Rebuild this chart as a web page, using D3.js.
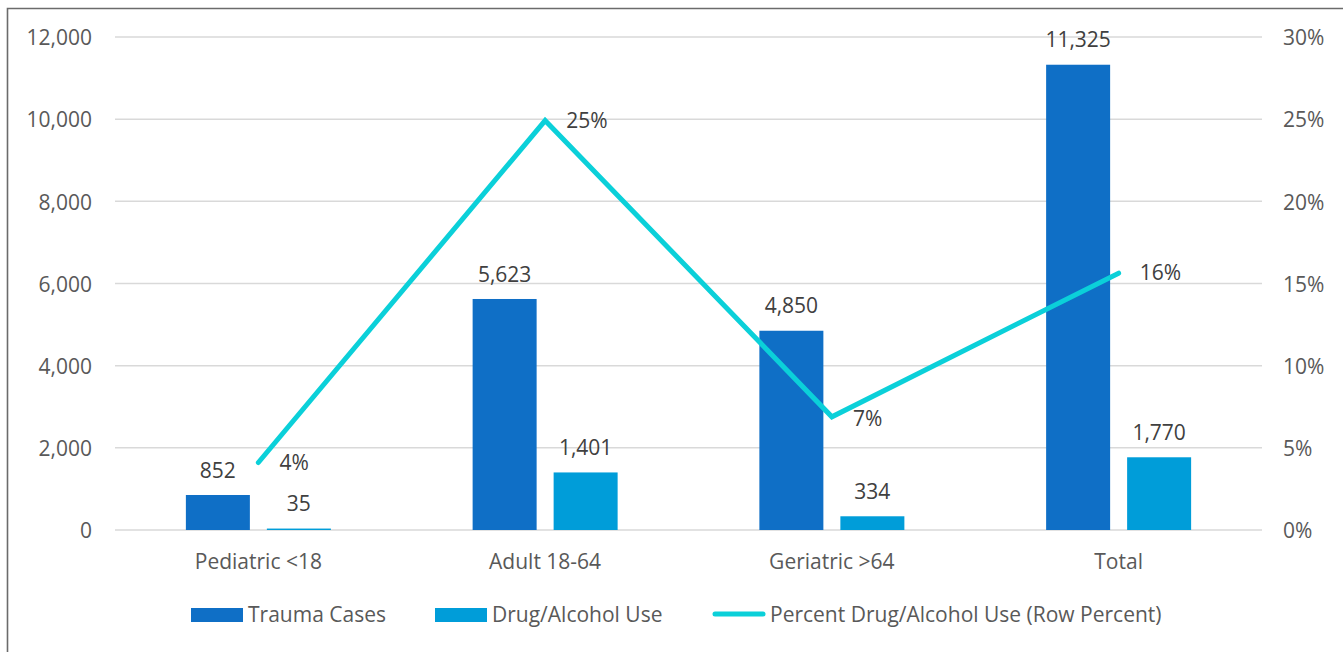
<!DOCTYPE html>
<html>
<head>
<meta charset="utf-8">
<script src="https://cdn.jsdelivr.net/npm/d3@7"></script>
<style>
  html, body { margin: 0; padding: 0; background: #fff; }
  svg { display: block; }
  text { font-family: "Open Sans", "Noto Sans", sans-serif; }
</style>
</head>
<body>
<svg id="chart" width="1343" height="652"></svg>
<script>
// Trauma cases and drug/alcohol involvement by age group
const categories = ["Pediatric <18", "Adult 18-64", "Geriatric >64", "Total"];
const traumaCases = [852, 5623, 4850, 11325];
const drugAlcoholUse = [35, 1401, 334, 1770];
const rowPercent = drugAlcoholUse.map((d, i) => d / traumaCases[i]);
const leftTicks = [0, 2000, 4000, 6000, 8000, 10000, 12000];
const rightTicks = [0, 0.05, 0.10, 0.15, 0.20, 0.25, 0.30];
const seriesNames = ["Trauma Cases", "Drug/Alcohol Use", "Percent Drug/Alcohol Use (Row Percent)"];

const colors = { trauma: "#0F6FC6", drug: "#009DD9", pct: "#0BD0D9" };
const fontSize = "21px";

const svg = d3.select("#chart");
const plot = { left: 115, right: 1262, top: 37, bottom: 530 };

// frame around the chart
svg.append("path")
  .attr("d", `M7.5,652 L7.5,8.5 L1343,8.5`)
  .attr("fill", "none").attr("stroke", "#6b6b6b").attr("stroke-width", 1.6);

const x = d3.scaleBand().domain(categories).range([plot.left, plot.right]);
const yL = d3.scaleLinear().domain([0, 12000]).range([plot.bottom, plot.top]);
const yR = d3.scaleLinear().domain([0, 0.30]).range([plot.bottom, plot.top]);
const barW = 64, barGap = 17;
const sub = d3.scaleOrdinal().domain([0, 1]).range([-(barW + barGap) / 2, (barW + barGap) / 2]);

// gridlines
svg.append("g").selectAll("line").data(leftTicks).join("line")
  .attr("x1", plot.left).attr("x2", plot.right)
  .attr("y1", d => yL(d)).attr("y2", d => yL(d))
  .attr("stroke", "#d9d9d9").attr("stroke-width", 1.5);

// left axis
const fmt = d3.format(",");
const axL = svg.append("g").attr("transform", `translate(${plot.left - 23},1)`)
  .call(d3.axisLeft(yL).tickValues(leftTicks).tickFormat(fmt).tickSize(0).tickPadding(0));
axL.select(".domain").remove();
axL.selectAll("text").attr("fill", "#595959").style("font-size", fontSize).style("font-family", "'Open Sans', sans-serif");

// right axis
const axR = svg.append("g").attr("transform", `translate(${plot.right + 21},1)`)
  .call(d3.axisRight(yR).tickValues(rightTicks).tickFormat(d3.format(".0%")).tickSize(0).tickPadding(0));
axR.select(".domain").remove();
axR.selectAll("text").attr("fill", "#595959").style("font-size", fontSize).style("font-family", "'Open Sans', sans-serif");

// category axis labels
svg.append("g").selectAll("text").data(categories).join("text")
  .attr("x", d => x(d) + x.bandwidth() / 2).attr("y", 563)
  .attr("text-anchor", "middle").attr("dominant-baseline", "middle")
  .attr("fill", "#595959").style("font-size", fontSize).text(d => d);

// bars
const seriesBars = [
  { name: seriesNames[0], values: traumaCases, color: colors.trauma },
  { name: seriesNames[1], values: drugAlcoholUse, color: colors.drug }
];
seriesBars.forEach((s, si) => {
  const g = svg.append("g");
  g.selectAll("rect").data(s.values).join("rect")
    .attr("x", (d, i) => x(categories[i]) + x.bandwidth() / 2 + sub(si) - barW / 2)
    .attr("width", barW)
    .attr("y", d => yL(d)).attr("height", d => yL(0) - yL(d))
    .attr("fill", s.color);
  g.selectAll("text").data(s.values).join("text")
    .attr("x", (d, i) => x(categories[i]) + x.bandwidth() / 2 + sub(si))
    .attr("y", d => yL(d) - 23)
    .attr("text-anchor", "middle").attr("dominant-baseline", "middle")
    .attr("fill", "#404040").style("font-size", fontSize).text(d => fmt(d));
});

// percent line
const line = d3.line()
  .x((d, i) => x(categories[i]) + x.bandwidth() / 2)
  .y(d => yR(d));
svg.append("path").datum(rowPercent)
  .attr("d", line).attr("fill", "none")
  .attr("stroke", colors.pct).attr("stroke-width", 5)
  .attr("stroke-linejoin", "miter").attr("stroke-linecap", "round");
svg.append("g").selectAll("text").data(rowPercent).join("text")
  .attr("x", (d, i) => x(categories[i]) + x.bandwidth() / 2 + 21)
  .attr("y", (d, i) => yR(d) + (i === 2 ? 4 : 1.5))
  .attr("dominant-baseline", "middle")
  .attr("fill", "#404040").style("font-size", fontSize)
  .text(d => d3.format(".0%")(d));

// legend
const legend = svg.append("g");
const legendItems = [
  { x: 191, type: "rect", color: colors.trauma, label: seriesNames[0] },
  { x: 435, type: "rect", color: colors.drug, label: seriesNames[1] },
  { x: 713, type: "line", color: colors.pct, label: seriesNames[2] }
];
legendItems.forEach(it => {
  if (it.type === "rect") {
    legend.append("rect").attr("x", it.x).attr("y", 608).attr("width", 52).attr("height", 14).attr("fill", it.color);
  } else {
    legend.append("line").attr("x1", it.x + 2).attr("x2", it.x + 50).attr("y1", 614).attr("y2", 614)
      .attr("stroke", it.color).attr("stroke-width", 5).attr("stroke-linecap", "round");
  }
  legend.append("text").attr("x", it.x + 57).attr("y", 616)
    .attr("dominant-baseline", "middle").attr("fill", "#595959")
    .style("font-size", fontSize).text(it.label);
});
</script>
</body>
</html>
